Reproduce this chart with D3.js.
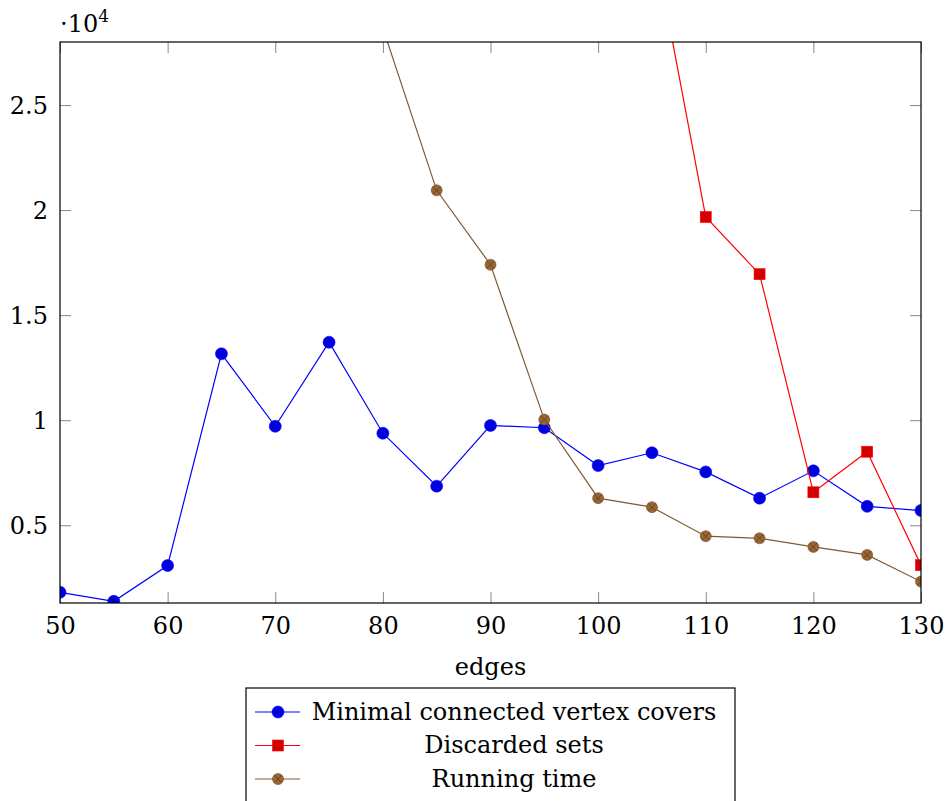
<!DOCTYPE html>
<html>
<head>
<meta charset="utf-8">
<title>edges</title>
<script src="https://cdn.jsdelivr.net/npm/d3@7"></script>
<style>
  body { margin: 0; background: #fff; }
  .tick line { stroke: #888; }
</style>
</head>
<body>
<svg width="947" height="801"></svg>
<script>
  // edges on the x axis
  var edges = [50, 55, 60, 65, 70, 75, 80, 85, 90, 95, 100, 105, 110, 115, 120, 125, 130];

  var covers = [1810, 1380, 3080, 13160, 9710, 13710, 9380, 6860, 9750, 9640, 7840, 8450, 7540, 6290, 7590, 5900, 5700];
  var discardedEdges = [105, 110, 115, 120, 125, 130];
  var discarded = [33200, 19670, 16950, 6570, 8500, 3100];
  var runningEdges = [80, 85, 90, 95, 100, 105, 110, 115, 120, 125, 130];
  var running = [28660, 20940, 17400, 10030, 6290, 5860, 4480, 4380, 3970, 3590, 2320];

  var xTicks = [50, 60, 70, 80, 90, 100, 110, 120, 130];
  var yTicks = [5000, 10000, 15000, 20000, 25000];
  var legendLabels = ["Minimal connected vertex covers", "Discarded sets", "Running time"];

  var serif = "'DejaVu Serif', serif";

  var svg = d3.select("svg"),
      margin = {top: 42, right: 26, bottom: 198, left: 60},
      width = +svg.attr("width") - margin.left - margin.right,
      height = +svg.attr("height") - margin.top - margin.bottom,
      g = svg.append("g").attr("transform", "translate(" + margin.left + "," + margin.top + ")");

  var x = d3.scaleLinear().domain([50, 130]).range([0, width]),
      y = d3.scaleLinear().domain([1300, 28000]).range([height, 0]);

  var fmt = function(d) { return d3.format("")(d / 10000); };

  // ticks go inward, on all four sides
  g.append("g")
      .attr("class", "axis axis--x")
      .attr("transform", "translate(0," + height + ")")
      .call(d3.axisBottom(x).tickValues(xTicks).tickSize(-11).tickPadding(19).tickFormat(d3.format("d")));
  g.append("g")
      .attr("class", "axis axis--x2")
      .call(d3.axisTop(x).tickValues(xTicks).tickSize(-11).tickFormat(""));
  g.append("g")
      .attr("class", "axis axis--y")
      .call(d3.axisLeft(y).tickValues(yTicks).tickSize(-11).tickPadding(12).tickFormat(fmt));
  g.append("g")
      .attr("class", "axis axis--y2")
      .attr("transform", "translate(" + width + ",0)")
      .call(d3.axisRight(y).tickValues(yTicks).tickSize(-11).tickFormat(""));

  g.selectAll(".axis path").remove();
  g.selectAll(".axis").attr("font-family", serif);
  g.selectAll(".axis text").style("font-size", "24px").style("font-family", serif);
  g.selectAll(".axis--y text").attr("dy", "0.35em");
  g.selectAll(".axis--x text").attr("dy", "0.5em");

  g.append("text")
      .attr("x", width / 2)
      .attr("y", height + 72)
      .attr("text-anchor", "middle")
      .style("font-family", serif)
      .style("font-size", "24px")
      .text("edges");

  var exp = g.append("text")
      .attr("x", 0)
      .attr("y", -10)
      .style("font-family", serif)
      .style("font-size", "24px");
  exp.append("tspan").text("\u00b710");
  exp.append("tspan").attr("dy", -10).style("font-size", "17px").text("4");

  svg.append("defs").append("clipPath").attr("id", "clip")
    .append("rect").attr("width", width).attr("height", height);

  var line = d3.line()
      .x(function(d) { return x(d[0]); })
      .y(function(d) { return y(d[1]); });

  var series = [
    {name: legendLabels[0], pts: d3.zip(edges, covers), stroke: "#0000ff", fill: "#0000dd", mark: "circle"},
    {name: legendLabels[1], pts: d3.zip(discardedEdges, discarded), stroke: "#ff0000", fill: "#d40000", mark: "square"},
    {name: legendLabels[2], pts: d3.zip(runningEdges, running), stroke: "#7f5a33", fill: "#996633", mark: "otimes"}
  ];

  var plot = g.append("g").attr("clip-path", "url(#clip)");

  function drawMark(sel, s) {
    if (s.mark === "circle") {
      sel.append("circle").attr("r", 6).attr("fill", s.fill).attr("stroke", s.stroke).attr("stroke-width", 0.6);
    } else if (s.mark === "square") {
      sel.append("rect").attr("x", -5.5).attr("y", -5.5).attr("width", 11).attr("height", 11)
          .attr("fill", s.fill).attr("stroke", s.stroke).attr("stroke-width", 0.6);
    } else {
      sel.append("circle").attr("r", 5.5).attr("fill", s.fill).attr("stroke", "#6e4a24").attr("stroke-width", 0.6);
      sel.append("path").attr("d", "M-3.9,-3.9L3.9,3.9M-3.9,3.9L3.9,-3.9")
          .attr("stroke", "#5a3a1a").attr("stroke-width", 0.7);
    }
  }

  series.forEach(function(s) {
    plot.append("path")
        .datum(s.pts)
        .attr("fill", "none")
        .attr("stroke", s.stroke)
        .attr("stroke-width", 1.2)
        .attr("d", line);
    plot.selectAll(null)
      .data(s.pts)
      .enter().append("g")
        .attr("transform", function(d) { return "translate(" + x(d[0]) + "," + y(d[1]) + ")"; })
        .each(function() { drawMark(d3.select(this), s); });
  });

  // frame
  g.append("rect")
      .attr("width", width).attr("height", height)
      .attr("fill", "none").attr("stroke", "#000").attr("stroke-width", 1.2);

  // legend below the plot
  var legend = svg.append("g").attr("transform", "translate(246,688)");
  legend.append("rect")
      .attr("width", 489).attr("height", 130)
      .attr("fill", "#fff").attr("stroke", "#000").attr("stroke-width", 1.2);

  var item = legend.selectAll(".item")
    .data(series)
    .enter().append("g")
      .attr("class", "item")
      .attr("transform", function(d, i) { return "translate(0," + (24 + i * 33.5) + ")"; });

  item.append("line")
      .attr("x1", 9).attr("x2", 54)
      .attr("stroke", function(d) { return d.stroke; })
      .attr("stroke-width", 1.2);
  item.append("g")
      .attr("transform", "translate(32,0)")
      .each(function(d) { drawMark(d3.select(this), d); });
  item.append("text")
      .attr("x", 268)
      .attr("dy", "0.33em")
      .attr("text-anchor", "middle")
      .style("font-family", serif)
      .style("font-size", "24px")
      .text(function(d) { return d.name; });
</script>
</body>
</html>
